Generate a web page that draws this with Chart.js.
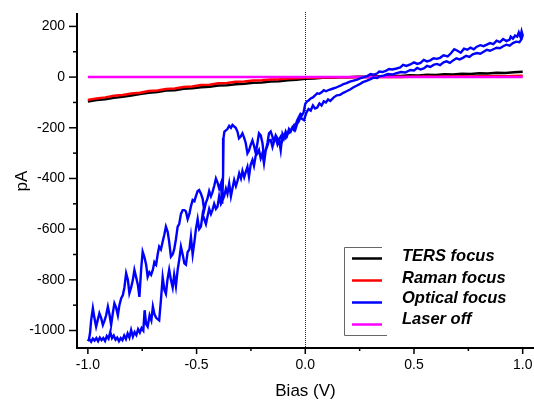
<!DOCTYPE html>
<html><head><meta charset="utf-8">
<script src="https://cdn.jsdelivr.net/npm/chart.js"></script>
<style>html,body{margin:0;padding:0;background:#fff;}canvas{display:block;}</style>
</head><body>
<canvas id="c" width="534" height="403"></canvas>
<script>
const biasGrid = [-1.00,-0.96,-0.92,-0.88,-0.84,-0.80,-0.76,-0.72,-0.68,-0.64,-0.60,-0.56,-0.52,-0.48,-0.44,-0.40,-0.36,-0.32,-0.28,-0.24,-0.20,-0.16,-0.12,-0.08,-0.04,0.00,0.04,0.08,0.12,0.16,0.20,0.24,0.28,0.32,0.36,0.40,0.44,0.48,0.52,0.56,0.60,0.64,0.68,0.72,0.76,0.80,0.84,0.88,0.92,0.96,1.00];
const tersCurrent = [-96,-90,-87,-82,-78,-73,-67,-62,-59,-53,-52,-46,-44,-40,-38,-33,-32,-28,-26,-22,-21,-17,-16,-12,-10,-7,-6,-3,-3,-1,-1,1,1,3,3,5,4,7,6,9,8,11,10,13,12,15,14,17,16,19,21];
const ramanCurrent = [-90,-84,-80,-74,-71,-65,-62,-55,-53,-47,-45,-39,-37,-31,-30,-24,-23,-18,-17,-13,-12,-9,-8,-6,-5,-3,-3,-2,-2,-1,-1,0,-1,0,0,1,0,1,1,2,1,2,2,3,2,3,3,4,3,4,5];
const laserOffCurrent = [0,0,0,0,0,0,0,0,0,0,0,0,0,0,0,0,0,0,0,0,0,0,0,0,0,0,0,0,0,0,0,0,0,0,0,0,0,0,0,0,0,0,0,0,0,0,0,0,0,0,0];

const opticalBias = [
 -1.000,-0.992,-0.985,-0.977,-0.969,-0.961,-0.953,-0.945,-0.937,-0.929,
 -0.921,-0.913,-0.905,-0.897,-0.889,-0.881,-0.873,-0.865,-0.857,-0.849,
 -0.841,-0.833,-0.825,-0.817,-0.809,-0.801,-0.793,-0.785,-0.777,-0.769,
 -0.761,-0.753,-0.745,-0.739,-0.732,-0.725,-0.716,-0.708,-0.701,-0.694,
 -0.686,-0.679,-0.672,-0.664,-0.656,-0.648,-0.641,-0.634,-0.626,-0.618,
 -0.610,-0.603,-0.595,-0.587,-0.580,-0.572,-0.564,-0.556,-0.549,-0.541,
 -0.533,-0.526,-0.518,-0.510,-0.503,-0.495,-0.488,-0.480,-0.472,-0.465,
 -0.457,-0.450,-0.442,-0.434,-0.427,-0.419,-0.411,-0.404,-0.396,-0.388,
 -0.380,-0.373,-0.365,-0.358,-0.350,-0.342,-0.335,-0.327,-0.319,-0.312,
 -0.304,-0.296,-0.289,-0.281,-0.274,-0.266,-0.259,-0.251,-0.243,-0.236,
 -0.228,-0.220,-0.213,-0.205,-0.197,-0.190,-0.182,-0.174,-0.167,-0.159,
 -0.151,-0.144,-0.136,-0.128,-0.120,-0.113,-0.105,-0.097,-0.090,-0.082,
 -0.075,-0.067,-0.060,-0.052,-0.045,-0.037,-0.030,-0.022,-0.015,-0.006,
 0.005,0.015,0.025,0.035,0.045,0.055,0.065,0.075,0.085,0.095,
 0.105,0.115,0.131,0.145,0.160,0.175,0.190,0.208,0.222,0.236,
 0.250,0.265,0.284,0.300,0.315,0.330,0.345,0.360,0.380,0.400,
 0.420,0.440,0.460,0.483,0.500,0.515,0.530,0.545,0.560,0.575,
 0.590,0.605,0.620,0.636,0.650,0.665,0.680,0.695,0.710,0.725,
 0.740,0.755,0.770,0.789,0.805,0.820,0.835,0.850,0.865,0.880,
 0.895,0.910,0.925,0.940,0.955,0.970,0.985,0.995,1.000,
 0.995,0.990,0.982,0.975,0.965,0.955,0.945,0.940,0.925,0.910,
 0.895,0.880,0.865,0.850,0.835,0.820,0.805,0.789,0.775,0.760,
 0.745,0.730,0.715,0.700,0.685,0.670,0.655,0.636,0.620,0.605,
 0.590,0.575,0.560,0.545,0.530,0.515,0.500,0.483,0.465,0.450,
 0.437,0.420,0.400,0.385,0.370,0.355,0.340,0.330,0.315,0.300,
 0.285,0.270,0.255,0.238,0.222,0.205,0.190,0.175,0.162,0.150,
 0.140,0.125,0.110,0.095,0.085,0.075,0.065,0.055,0.045,0.035,
 0.025,0.015,0.009,0.000,
 -0.008,-0.015,-0.022,-0.029,-0.037,-0.045,-0.052,-0.060,-0.067,-0.075,
 -0.083,-0.090,-0.098,-0.105,-0.113,-0.120,-0.128,-0.136,-0.144,-0.151,
 -0.159,-0.167,-0.174,-0.182,-0.190,-0.197,-0.205,-0.213,-0.220,-0.228,
 -0.236,-0.243,-0.251,-0.259,-0.266,-0.274,-0.281,-0.289,-0.297,-0.305,
 -0.312,-0.320,-0.327,-0.335,-0.342,-0.350,-0.358,-0.365,-0.372,-0.376,
 -0.378,-0.382,-0.388,-0.396,-0.404,-0.411,-0.419,-0.427,-0.434,-0.442,
 -0.450,-0.457,-0.465,-0.472,-0.480,-0.488,-0.495,-0.503,-0.510,-0.518,
 -0.526,-0.533,-0.541,-0.549,-0.556,-0.564,-0.572,-0.580,-0.587,-0.595,
 -0.603,-0.610,-0.618,-0.626,-0.633,-0.641,-0.648,-0.656,-0.664,-0.672,
 -0.679,-0.686,-0.694,-0.701,-0.709,-0.717,-0.725,-0.732,-0.740,-0.748,
 -0.755,-0.763,-0.770,-0.778,-0.786,-0.793,-0.801,-0.809,-0.816,-0.824,
 -0.832,-0.839,-0.847,-0.855,-0.862,-0.870,-0.878,-0.885,-0.893,-0.900,
 -0.908,-0.916,-0.923,-0.931,-0.939,-0.947,-0.955,-0.962,-0.970,-0.977,
 -0.985,-0.990,-0.995,-1.000
];
const opticalCurrent = [
 -1040,-1035,-1044,-1032,-1040,-1030,-1042,-1028,-1038,-1030,
 -1041,-1022,-1032,-1006,-1030,-1020,-1036,-1028,-1042,-1030,
 -1038,-1020,-1034,-1012,-1028,-998,-1024,-1006,-1018,-995,
 -1008,-990,-1000,-920,-975,-985,-940,-960,-906,-935,
 -950,-955,-960,-880,-790,-840,-855,-800,-760,-800,
 -830,-780,-825,-760,-722,-669,-700,-735,-740,-690,
 -680,-630,-700,-650,-600,-560,-600,-590,-540,-560,
 -580,-551,-520,-540,-525,-500,-520,-512,-470,-500,
 -485,-470,-440,-460,-420,-470,-440,-406,-430,-410,
 -380,-400,-370,-395,-375,-354,-393,-345,-327,-350,
 -310,-301,-288,-320,-300,-340,-290,-270,-250,-248,
 -275,-250,-240,-265,-245,-235,-250,-230,-240,-225,
 -220,-209,-200,-190,-205,-183,-175,-157,-165,-170,
 -140,-126,-132,-112,-124,-120,-104,-112,-96,-100,
 -88,-94,-80,-72,-70,-62,-56,-48,-40,-34,
 -28,-20,-14,-8,-2,-4,4,6,12,10,
 16,20,18,28,26,36,30,34,44,40,
 48,52,47,58,62,56,66,74,70,76,
 84,80,90,95,92,100,108,104,110,116,
 114,122,128,124,134,140,138,150,165,
 180,158,176,160,164,152,160,148,142,150,
 138,144,130,134,128,122,126,120,110,116,
 108,112,96,104,110,94,82,86,76,72,
 74,66,62,68,56,52,58,50,44,48,
 38,34,30,32,24,20,22,14,10,12,
 4,0,-4,-10,-14,-18,-24,-28,-34,-38,
 -42,-46,-50,-56,-52,-60,-66,-64,-72,-80,
 -84,-92,-95,-105,
 -140,-150,-145,-157,-170,-190,-209,-200,-215,-205,
 -229,-215,-240,-225,-288,-250,-242,-230,-255,-235,
 -215,-222,-260,-290,-314,-260,-230,-222,-260,-300,
 -270,-250,-268,-290,-301,-260,-240,-222,-235,-242,
 -215,-200,-195,-189,-200,-192,-205,-210,-215,-240,
 -380,-500,-420,-440,-415,-400,-430,-455,-470,-450,
 -480,-495,-525,-480,-460,-446,-450,-470,-490,-485,
 -510,-540,-560,-530,-525,-525,-540,-580,-590,-640,
 -680,-700,-709,-650,-610,-590,-620,-650,-680,-669,
 -700,-740,-730,-760,-780,-770,-788,-740,-710,-689,
 -760,-867,-820,-790,-761,-800,-830,-853,-800,-774,
 -830,-860,-873,-900,-940,-910,-893,-930,-978,-940,
 -906,-940,-960,-978,-950,-932,-960,-985,-950,-912,
 -960,-1010,-1035,-1042
];

const xTickValues = [-1, -0.5, 0, 0.5, 1];
const xTickLabels = ['-1.0', '-0.5', '0.0', '0.5', '1.0'];
const xMinorTicks = [-0.75, -0.25, 0.25, 0.75];
const yTickValues = [-1000, -800, -600, -400, -200, 0, 200];
const yTickLabels = ['-1000', '-800', '-600', '-400', '-200', '0', '200'];
const yMinorTicks = [-900, -700, -500, -300, -100, 100];
const seriesNames = ['TERS focus', 'Raman focus', 'Optical focus', 'Laser off'];
const seriesColors = ['#000000', '#ff0000', '#0000ff', '#ff00ff'];

Chart.defaults.font.family = '"Liberation Sans", Arial, sans-serif';
Chart.defaults.color = '#000';

const pts = (xs, ys) => xs.map((v, i) => ({x: v, y: ys[i]}));

const decor = {
  id: 'decor',
  afterDatasetsDraw(chart) {
    const {ctx, chartArea, scales: {x}} = chart;
    ctx.save();
    ctx.strokeStyle = '#222';
    ctx.lineWidth = 1;
    ctx.setLineDash([1, 1]);
    const x0 = Math.round(x.getPixelForValue(0)) + 0.5;
    ctx.beginPath();
    ctx.moveTo(x0, chartArea.top - 2);
    ctx.lineTo(x0, chartArea.bottom);
    ctx.stroke();
    ctx.restore();
  },
  afterDraw(chart) {
    const {ctx, chartArea, scales: {x, y}} = chart;
    ctx.save();
    ctx.strokeStyle = '#000';
    ctx.lineWidth = 1.5;
    const b = chartArea.bottom, l = chartArea.left;
    const tick = (x1, y1, x2, y2) => { ctx.beginPath(); ctx.moveTo(x1, y1); ctx.lineTo(x2, y2); ctx.stroke(); };
    xTickValues.forEach(v => { const p = x.getPixelForValue(v); tick(p, b, p, b + 6); });
    xMinorTicks.forEach(v => { const p = x.getPixelForValue(v); tick(p, b, p, b + 3); });
    yTickValues.forEach(v => { const p = y.getPixelForValue(v); tick(l, p, l - 8, p); });
    yMinorTicks.forEach(v => { const p = y.getPixelForValue(v); tick(l, p, l - 4, p); });

    // legend box
    ctx.strokeStyle = '#666';
    ctx.lineWidth = 1;
    ctx.beginPath();
    ctx.moveTo(382, 247.5); ctx.lineTo(344.5, 247.5); ctx.lineTo(344.5, 335.5); ctx.lineTo(387, 335.5);
    ctx.stroke();
    const sampleY = [258.5, 280.5, 302.5, 324.5];
    const textY = [261, 282.7, 303.3, 323.7];
    ctx.lineWidth = 2.5;
    ctx.font = 'italic bold 16.5px "Liberation Sans", Arial, sans-serif';
    ctx.textBaseline = 'alphabetic';
    ctx.textAlign = 'left';
    ctx.fillStyle = '#000';
    seriesNames.forEach((n, i) => {
      ctx.strokeStyle = seriesColors[i];
      tick(352, sampleY[i], 382, sampleY[i]);
      ctx.fillText(n, 402, textY[i]);
    });
    ctx.restore();
  }
};

new Chart(document.getElementById('c'), {
  type: 'scatter',
  data: {
    datasets: [
      {label: seriesNames[2], data: pts(opticalBias, opticalCurrent), borderColor: seriesColors[2], order: 0, borderWidth: 2.4},
      {label: seriesNames[3], data: pts(biasGrid, laserOffCurrent), borderColor: seriesColors[3], order: 1, borderWidth: 2.5},
      {label: seriesNames[1], data: pts(biasGrid, ramanCurrent), borderColor: seriesColors[1], order: 2},
      {label: seriesNames[0], data: pts(biasGrid, tersCurrent), borderColor: seriesColors[0], order: 3}
    ].map(d => Object.assign({showLine: true, pointRadius: 0, borderWidth: 2.5, tension: 0, fill: false}, d))
  },
  options: {
    responsive: false,
    animation: false,
    devicePixelRatio: 1,
    layout: {padding: {top: 14, left: 0, right: 0, bottom: 0}},
    plugins: {legend: {display: false}, tooltip: {enabled: false}},
    scales: {
      x: {
        type: 'linear', position: 'bottom', min: -1.05, max: 1.052,
        afterBuildTicks: s => { s.ticks = xTickValues.map(v => ({value: v})); },
        afterFit: s => { s.height = 55; s.paddingLeft = 0; s.paddingRight = 0; },
        ticks: {callback: (v, i) => xTickLabels[i], padding: 9, color: '#000', font: {size: 14}, maxRotation: 0, autoSkip: false},
        grid: {display: false, drawOnChartArea: false, drawTicks: false},
        border: {display: true, color: '#000', width: 2},
        title: {display: true, text: 'Bias (V)', color: '#000', font: {size: 17}, padding: {top: 0, bottom: 1}}
      },
      y: {
        type: 'linear', position: 'left', min: -1069, max: 249,
        afterBuildTicks: s => { s.ticks = yTickValues.map(v => ({value: v})); },
        afterFit: s => { s.width = 77; s.paddingTop = 0; s.paddingBottom = 0; },
        ticks: {callback: (v, i) => yTickLabels[i], padding: 12, color: '#000', font: {size: 14}, autoSkip: false},
        grid: {display: false, drawOnChartArea: false, drawTicks: false},
        border: {display: true, color: '#000', width: 2},
        title: {display: true, text: 'pA', color: '#000', font: {size: 17}, padding: {top: 12, bottom: 0}}
      }
    }
  },
  plugins: [decor]
});
</script>
</body></html>
